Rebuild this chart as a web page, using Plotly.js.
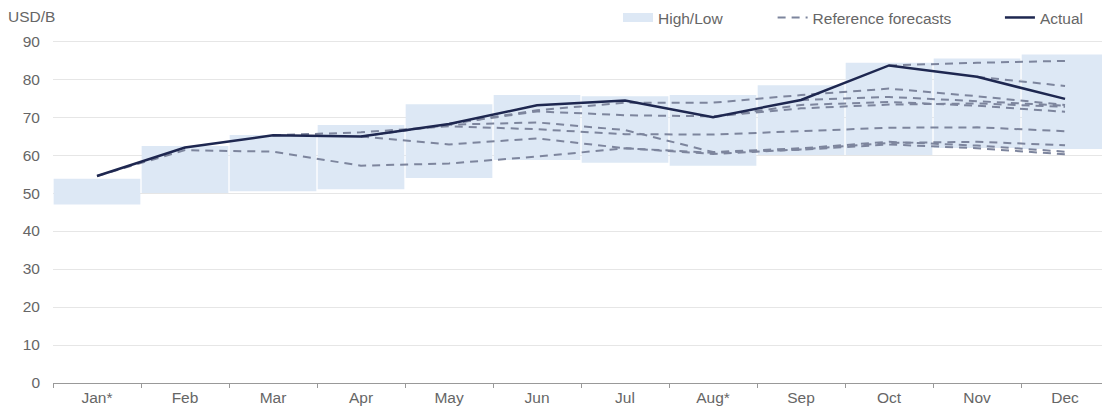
<!DOCTYPE html>
<html>
<head>
<meta charset="utf-8">
<script src="https://cdn.plot.ly/plotly-3.0.1.min.js"></script>
<style>html,body{margin:0;padding:0;overflow:hidden;background:#fff}#chart{width:1102px;height:406px}</style>
</head>
<body>
<div id="chart"></div>
<script>
var months = ["Jan*", "Feb", "Mar", "Apr", "May", "Jun", "Jul", "Aug*", "Sep", "Oct", "Nov", "Dec"];
var actual = [54.5, 62.0, 65.2, 64.9, 68.2, 73.1, 74.4, 70.0, 74.5, 83.6, 80.6, 74.8];
var high = [53.8, 62.4, 65.3, 67.9, 73.4, 75.8, 75.5, 75.8, 78.4, 84.3, 85.4, 86.5];
var low = [47.0, 50.0, 50.5, 51.0, 54.0, 58.7, 58.0, 57.2, 60.0, 60.0, 61.9, 61.6];
var N = null;
var fcJan = [54.5, 61.3, 60.9, 57.2, 57.8, 59.6, 61.8, 60.6, 61.4, 62.8, 61.8, 60.2];
var fcMar = [N, N, 65.2, 66.0, 67.6, 66.8, 65.5, 65.4, 66.3, 67.2, 67.3, 66.3];
var fcAprA = [N, N, N, 64.9, 68.0, 68.6, 66.6, 60.8, 61.8, 63.5, 62.5, 60.9];
var fcAprB = [N, N, N, 64.9, 62.8, 64.4, 61.8, 60.3, 61.5, 63.2, 63.5, 62.6];
var fcMayA = [N, N, N, N, 68.2, 71.8, 73.8, 73.8, 75.8, 77.5, 75.5, 73.2];
var fcMayB = [N, N, N, N, 68.2, 71.5, 70.5, 70.2, 72.3, 73.3, 73.6, 72.7];
var fcAug = [N, N, N, N, N, N, N, 70.0, 73.2, 74.0, 73.0, 71.4];
var fcSep = [N, N, N, N, N, N, N, N, 74.5, 75.3, 74.2, 73.0];
var fcOct = [N, N, N, N, N, N, N, N, N, 83.6, 84.3, 84.8];
var fcNov = [N, N, N, N, N, N, N, N, N, N, 80.6, 78.2];
var forecasts = [fcJan, fcMar, fcAprA, fcAprB, fcMayA, fcMayB, fcAug, fcSep, fcOct, fcNov];

var barColor = "#dde8f5";
var fcColor = "#7d859d";
var actColor = "#1e2750";

var traces = [];
traces.push({
  type: "bar", x: months, base: low,
  y: high.map(function (h, i) { return h - low[i]; }),
  width: 0.985, marker: {color: barColor, line: {width: 0}},
  name: "High/Low", showlegend: false, hoverinfo: "skip"
});
// legend-only swatch for the High/Low band (wide flat rectangle)
traces.push({
  type: "scatter", mode: "lines", x: [null], y: [null],
  line: {color: barColor, width: 9},
  name: "High/Low", legend: "legend", hoverinfo: "skip"
});
forecasts.forEach(function (f, k) {
  traces.push({
    type: "scatter", mode: "lines", x: months, y: f,
    line: {color: fcColor, width: 2, dash: "8px,6px"},
    name: "Reference forecasts", legendgroup: "fc", showlegend: k === 0,
    legend: "legend2", connectgaps: false, hoverinfo: "skip"
  });
});
traces.push({
  type: "scatter", mode: "lines", x: months, y: actual,
  line: {color: actColor, width: 2.5},
  name: "Actual", legend: "legend3", hoverinfo: "skip"
});

var font = {family: "Liberation Sans, Arial, sans-serif", size: 15.5, color: "#666"};
var legBase = {orientation: "h", yanchor: "top", y: 1.114, xanchor: "left",
  bgcolor: "rgba(0,0,0,0)", font: font, traceorder: "normal"};
function leg(x) { var o = Object.assign({}, legBase); o.x = x; return o; }

var layout = {
  width: 1102, height: 406,
  margin: {l: 53, r: 0, t: 40, b: 23},
  paper_bgcolor: "#fff", plot_bgcolor: "#fff",
  font: font,
  barmode: "overlay",
  title: {text: "USD/B", x: 8 / 1102, xanchor: "left", xref: "container",
    y: 1 - 17 / 406, yanchor: "middle", yref: "container", font: font},
  xaxis: {
    type: "category", range: [-0.5, 11.42], showgrid: false,
    showline: true, linecolor: "#999", linewidth: 1,
    ticks: "outside", tickson: "boundaries", ticklen: 4, tickcolor: "#999",
    tickfont: font, fixedrange: true
  },
  yaxis: {
    range: [0, 90.3], tickvals: [0, 10, 20, 30, 40, 50, 60, 70, 80, 90],
    showgrid: true, gridcolor: "#e6e6e6", gridwidth: 1, zeroline: false,
    showline: false, ticks: "", ticklabelstandoff: 12, tickfont: font, fixedrange: true
  },
  legend: leg(0.5386),
  legend2: leg(0.686),
  legend3: leg(0.9027),
  showlegend: true
};

Plotly.newPlot("chart", traces, layout, {staticPlot: true, displayModeBar: false});
</script>
</body>
</html>
